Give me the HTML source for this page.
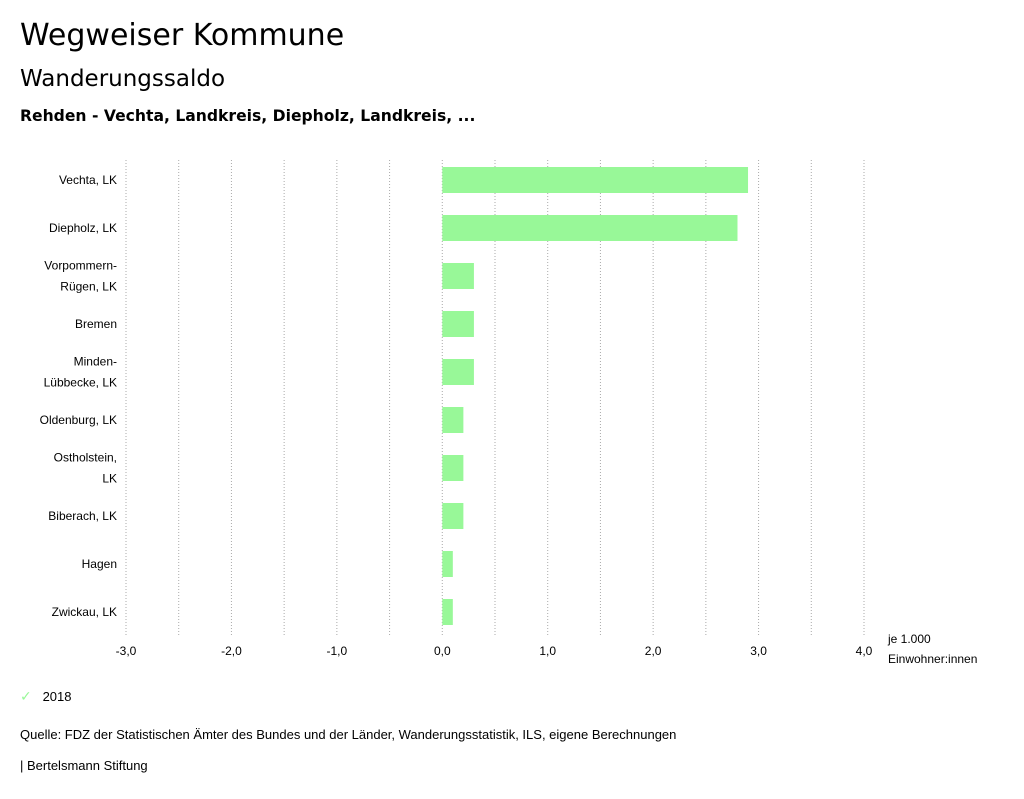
<!DOCTYPE html>
<html><head><meta charset="utf-8"><style>
body{margin:0;background:#fff;font-family:"Liberation Sans","DejaVu Sans",sans-serif;color:#000;}
.t{position:absolute;white-space:nowrap;}
</style></head><body>
<div style="position:relative;width:1024px;height:799px;overflow:hidden">
<div class="t" style="left:20px;top:18px;font-size:30px;font-family:'DejaVu Sans',sans-serif">Wegweiser Kommune</div>
<div class="t" style="left:20px;top:66px;font-size:23px;font-family:'DejaVu Sans',sans-serif">Wanderungssaldo</div>
<div class="t" style="left:20px;top:107px;font-size:15.6px;font-weight:bold;font-family:'DejaVu Sans',sans-serif">Rehden - Vechta, Landkreis, Diepholz, Landkreis, ...</div>
<svg id="chart" width="1024" height="799" style="position:absolute;left:0;top:0"></svg>
<div class="t" style="left:20px;top:688px;font-size:13px"><span style="color:#98f898;font-size:14px">✓</span>&nbsp;&nbsp;&nbsp;2018</div>
<div class="t" style="left:20px;top:727px;font-size:13px">Quelle: FDZ der Statistischen Ämter des Bundes und der Länder, Wanderungsstatistik, ILS, eigene Berechnungen</div>
<div class="t" style="left:20px;top:758px;font-size:13px">| Bertelsmann Stiftung</div>
</div>
<script>
const categories=[["Vechta, LK"],["Diepholz, LK"],["Vorpommern-","Rügen, LK"],["Bremen"],["Minden-","Lübbecke, LK"],["Oldenburg, LK"],["Ostholstein,","LK"],["Biberach, LK"],["Hagen"],["Zwickau, LK"]];
const values2018=[2.9,2.8,0.3,0.3,0.3,0.2,0.2,0.2,0.1,0.1];
const tickValues=[-3,-2,-1,0,1,2,3,4];
const tickLabels=["-3,0","-2,0","-1,0","0,0","1,0","2,0","3,0","4,0"];
const NS="http://www.w3.org/2000/svg";
const svg=document.getElementById('chart');
const x0=126,x1=864,vmin=-3,vmax=4,plotTop=156,rowH=48;
const xs=v=>x0+(v-vmin)/(vmax-vmin)*(x1-x0);
const yc=i=>plotTop+rowH*i+24;
function mk(t,a){const e=document.createElementNS(NS,t);for(const k in a)e.setAttribute(k,a[k]);svg.appendChild(e);return e;}
for(let v=vmin;v<=vmax+1e-9;v+=0.5){
 const g=mk('line',{x1:xs(v),x2:xs(v),y1:160,y2:636,stroke:'#aaa','stroke-width':1,'stroke-dasharray':'1,2'});
 
 
}
tickValues.forEach((v,i)=>{
 const t=mk('text',{x:xs(v),y:655,'text-anchor':'middle','font-size':12,'font-family':'Liberation Sans, sans-serif'});
 t.textContent=tickLabels[i];
 
 
});
categories.forEach((c,i)=>{
 const y=yc(i);
 c.forEach((line,j)=>{
  const t=mk('text',{x:117,y:y+4+(j-(c.length-1)/2)*21,'text-anchor':'end','font-size':12,'font-family':'Liberation Sans, sans-serif'});
  t.textContent=line;
  
  
 });
 const v=values2018[i];
 const r=mk('rect',{x:Math.min(xs(0),xs(v)),y:y-13,width:Math.abs(xs(v)-xs(0)),height:26,fill:'#98f898'});
 
 
});
[["je 1.000",643],["Einwohner:innen",663]].forEach(([s,y])=>{
 const t=mk('text',{x:888,y:y,'font-size':12,'font-family':'Liberation Sans, sans-serif'});
 t.textContent=s;
 
 
});
</script>
</body></html>
